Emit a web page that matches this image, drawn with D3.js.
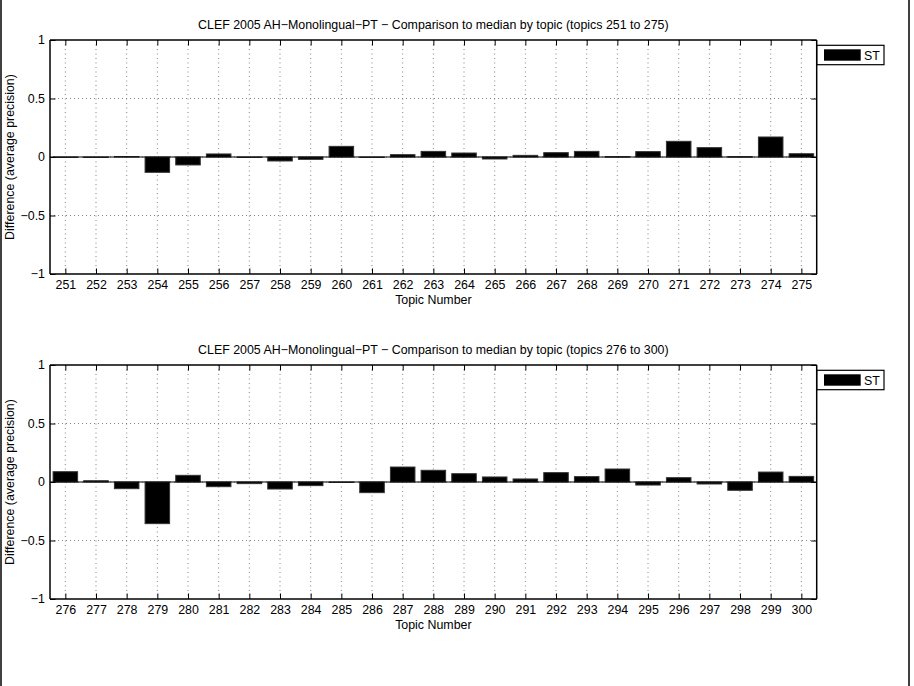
<!DOCTYPE html>
<html>
<head>
<meta charset="utf-8">
<script src="https://cdn.jsdelivr.net/npm/d3@7"></script>
<style>
  html, body { margin: 0; padding: 0; background: #fff; }
  svg { display: block; font-family: "Liberation Sans", Arial, Helvetica, sans-serif; }
</style>
</head>
<body>
<svg id="chart" width="914" height="686"></svg>
<script>
// ---------- data ----------
const topicsTop = d3.range(251, 276);
const valuesTop = [-0.004, -0.004, 0.004, -0.131, -0.068, 0.026, -0.004, -0.034, -0.02, 0.091,
                   -0.003, 0.02, 0.048, 0.034, -0.017, 0.014, 0.037, 0.048, 0.003, 0.046,
                   0.134, 0.08, 0.003, 0.171, 0.028];
const topicsBottom = d3.range(276, 301);
const valuesBottom = [0.088, 0.011, -0.057, -0.356, 0.057, -0.04, -0.014, -0.06, -0.031, -0.002,
                      -0.091, 0.128, 0.1, 0.071, 0.043, 0.026, 0.08, 0.046, 0.111, -0.026,
                      0.037, -0.017, -0.071, 0.085, 0.048];
const yTicks = [-1, -0.5, 0, 0.5, 1];
const titles = [
  "CLEF 2005 AH\u2212Monolingual\u2212PT \u2212 Comparison to median by topic (topics 251 to 275)",
  "CLEF 2005 AH\u2212Monolingual\u2212PT \u2212 Comparison to median by topic (topics 276 to 300)"
];
const seriesName = "ST";
const xLabel = "Topic Number";
const yLabel = "Difference (average precision)";

// ---------- drawing ----------
const svg = d3.select("#chart");
const W = 914, H = 686;
const FS = 12.4;

// outer figure frame (left/right edges)
svg.append("line").attr("x1", 1).attr("x2", 1).attr("y1", 0).attr("y2", H)
  .attr("stroke", "#000").attr("stroke-width", 1.5);
svg.append("line").attr("x1", 909).attr("x2", 909).attr("y1", 0).attr("y2", H)
  .attr("stroke", "#000").attr("stroke-width", 1.5);

const fmt = v => (v < 0 ? "\u2212" : "") + Math.abs(v);

function panel(topics, values, title, top) {
  const left = 50, right = 816.7, height = 234;
  const g = svg.append("g").attr("transform", `translate(0,${top})`);
  const x = d3.scaleLinear().domain([topics[0] - 0.5, topics[topics.length - 1] + 0.5]).range([left, right]);
  const y = d3.scaleLinear().domain([-1, 1]).range([height, 0]);
  const step = x(1) - x(0);
  const bw = step * 0.8;

  // grid
  g.append("g").selectAll("line").data(topics).join("line")
    .attr("x1", d => x(d)).attr("x2", d => x(d)).attr("y1", 0).attr("y2", height)
    .attr("stroke", "#666").attr("stroke-width", 0.8).attr("stroke-dasharray", "1,3.5");
  g.append("g").selectAll("line").data(yTicks.filter(v => v !== -1 && v !== 1)).join("line")
    .attr("x1", left).attr("x2", right).attr("y1", d => y(d)).attr("y2", d => y(d))
    .attr("stroke", "#666").attr("stroke-width", 0.8).attr("stroke-dasharray", "1,3");

  // bars
  g.append("g").selectAll("rect").data(values).join("rect")
    .attr("x", (d, i) => x(topics[i]) - bw / 2)
    .attr("width", bw)
    .attr("y", d => y(Math.max(0, d)))
    .attr("height", d => Math.max(0.5, Math.abs(y(d) - y(0))))
    .attr("fill", "#000").attr("stroke", "#333").attr("stroke-width", 1);

  // baseline
  g.append("line").attr("x1", left).attr("x2", right).attr("y1", y(0)).attr("y2", y(0))
    .attr("stroke", "#000").attr("stroke-width", 1);

  // axes (ticks inward)
  const tl = 5.5;
  const xb = g.append("g").attr("transform", `translate(0,${height})`)
    .call(d3.axisBottom(x).tickValues(topics).tickSize(-tl).tickPadding(6.5).tickFormat(d3.format("d")));
  const xt = g.append("g")
    .call(d3.axisTop(x).tickValues(topics).tickSize(-tl).tickFormat(""));
  const yl = g.append("g").attr("transform", `translate(${left},0)`)
    .call(d3.axisLeft(y).tickValues(yTicks).tickSize(-tl).tickPadding(5).tickFormat(fmt));
  const yr = g.append("g").attr("transform", `translate(${right},0)`)
    .call(d3.axisRight(y).tickValues(yTicks).tickSize(-tl).tickFormat(""));
  [xb, xt, yl, yr].forEach(a => {
    a.selectAll(".domain").attr("stroke", "#000").attr("stroke-width", 1.5);
    a.selectAll(".tick line").attr("stroke", "#000").attr("stroke-width", 1);
    a.selectAll("text").attr("font-size", FS).attr("fill", "#000")
      .attr("font-family", "Liberation Sans, Arial, sans-serif");
  });
  xb.selectAll(".domain").attr("d", `M${left},0H${right}`);
  xt.selectAll(".domain").attr("d", `M${left},0H${right}`);
  yl.selectAll(".domain").attr("d", `M0,0V${height}`);
  yr.selectAll(".domain").attr("d", `M0,0V${height}`);

  // title
  g.append("text").attr("x", (left + right) / 2).attr("y", -11)
    .attr("text-anchor", "middle").attr("font-size", FS).text(title);
  // x label
  g.append("text").attr("x", (left + right) / 2).attr("y", height + 30)
    .attr("text-anchor", "middle").attr("font-size", FS).text(xLabel);
  // y label
  g.append("text").attr("transform", `translate(14,${height / 2}) rotate(-90)`)
    .attr("text-anchor", "middle").attr("font-size", FS).text(yLabel);

  // legend
  const lg = g.append("g");
  lg.append("rect").attr("x", 817).attr("y", 5.3).attr("width", 67).attr("height", 19.4)
    .attr("fill", "#fff").attr("stroke", "#000").attr("stroke-width", 1.2);
  lg.append("rect").attr("x", 824).attr("y", 9.3).attr("width", 36.7).attr("height", 11.4)
    .attr("fill", "#000");
  lg.append("text").attr("x", 864).attr("y", 19.8).attr("font-size", FS).text(seriesName);
}

panel(topicsTop, valuesTop, titles[0], 40);
panel(topicsBottom, valuesBottom, titles[1], 365);
</script>
</body>
</html>
